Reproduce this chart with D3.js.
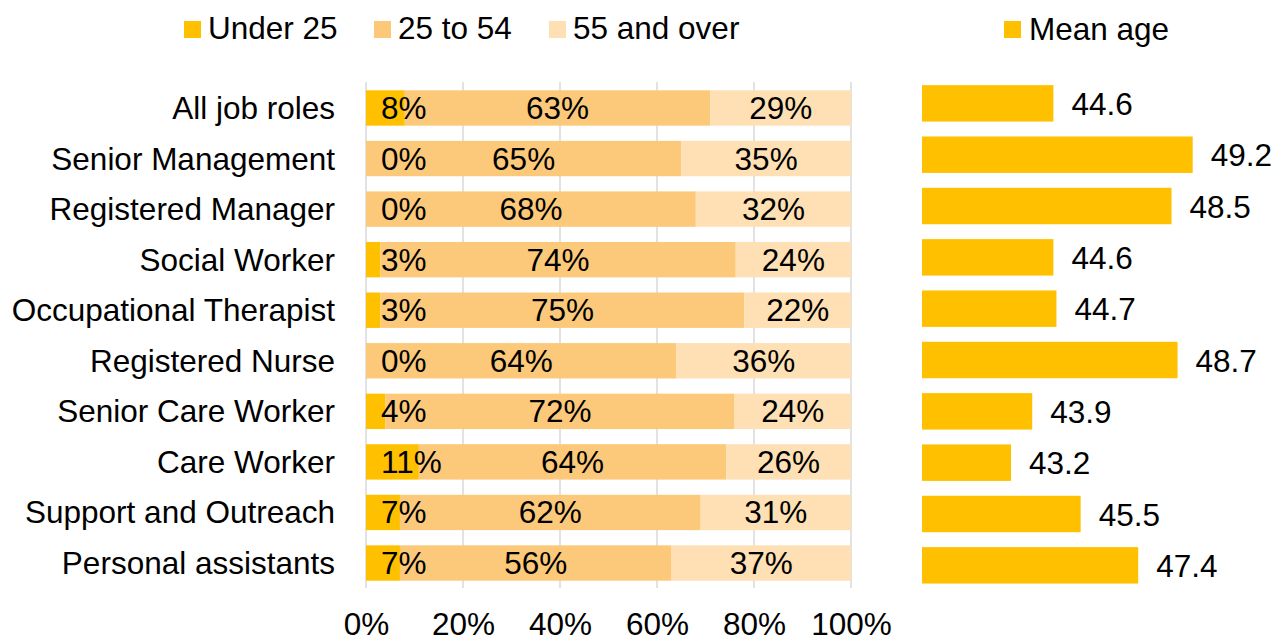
<!DOCTYPE html>
<html>
<head>
<meta charset="utf-8">
<script src="https://cdn.jsdelivr.net/npm/d3@7/dist/d3.min.js"></script>
<style>
  html, body { margin: 0; padding: 0; background: #fff; }
  svg { display: block; font-family: "Liberation Sans", Arial, sans-serif; }
</style>
</head>
<body>
<svg id="chart" width="1274" height="639"></svg>
<script>
// Job roles, top to bottom
const roles = [
  "All job roles", "Senior Management", "Registered Manager", "Social Worker",
  "Occupational Therapist", "Registered Nurse", "Senior Care Worker",
  "Care Worker", "Support and Outreach", "Personal assistants"
];

// Age band shares (%)
const ageBands = ["Under 25", "25 to 54", "55 and over"];
const under25 = [8, 0, 0, 3, 3, 0, 4, 11, 7, 7];
const age25to54 = [63, 65, 68, 74, 75, 64, 72, 64, 62, 56];
const age55plus = [29, 35, 32, 24, 22, 36, 24, 26, 31, 37];

// Mean age by role
const meanAge = [44.6, 49.2, 48.5, 44.6, 44.7, 48.7, 43.9, 43.2, 45.5, 47.4];

// Percentage axis ticks
const pctTicks = [0, 20, 40, 60, 80, 100];

const bandColors = ["#FFC000", "#FCC97A", "#FEE0B4"];
const meanColor = "#FFC000";
const fontSize = 31.5;

const svg = d3.select("#chart");

const rows = roles.map((r, i) => ({
  role: r,
  "Under 25": under25[i],
  "25 to 54": age25to54[i],
  "55 and over": age55plus[i]
}));

// ---- Left panel: stacked age-band shares ----
const x = d3.scaleLinear().domain([0, 1]).range([366, 851]);
const y = d3.scaleBand().domain(roles).range([82.7, 588.3]).paddingInner(0.3).paddingOuter(0.15);

// gridlines
svg.append("g")
  .selectAll("line")
  .data(pctTicks)
  .join("line")
  .attr("x1", d => x(d / 100)).attr("x2", d => x(d / 100))
  .attr("y1", 82).attr("y2", 588)
  .attr("stroke", "#D9D9D9")
  .attr("stroke-width", 1.5);

const stack = d3.stack().keys(ageBands).offset(d3.stackOffsetExpand);
const series = stack(rows);

const layers = svg.append("g")
  .selectAll("g")
  .data(series)
  .join("g")
  .attr("fill", (d, i) => bandColors[i]);

layers.selectAll("rect")
  .data(d => d)
  .join("rect")
  .attr("x", d => x(d[0]))
  .attr("width", d => Math.max(0, x(d[1]) - x(d[0])))
  .attr("y", d => y(d.data.role))
  .attr("height", y.bandwidth());

// segment labels
series.forEach((s, si) => {
  svg.append("g")
    .selectAll("text")
    .data(s)
    .join("text")
    .attr("x", d => si === 0 ? x(0) + 15 : (x(d[0]) + x(d[1])) / 2)
    .attr("y", d => y(d.data.role) + y.bandwidth() / 2)
    .attr("dy", "0.35em")
    .attr("text-anchor", si === 0 ? "start" : "middle")
    .attr("font-size", fontSize)
    .attr("fill", "#000")
    .text(d => d.data[s.key] + "%");
});

// category labels
svg.append("g")
  .selectAll("text")
  .data(roles)
  .join("text")
  .attr("x", 335)
  .attr("y", d => y(d) + y.bandwidth() / 2)
  .attr("dy", "0.35em")
  .attr("text-anchor", "end")
  .attr("font-size", fontSize)
  .attr("fill", "#000")
  .text(d => d);

// percentage axis
const xAxis = d3.axisBottom(x)
  .tickValues(pctTicks.map(d => d / 100))
  .tickFormat(d => Math.round(d * 100) + "%")
  .tickSize(0)
  .tickPadding(0);
const axG = svg.append("g").attr("transform", "translate(0,612)").call(xAxis);
axG.select(".domain").remove();
axG.selectAll("text")
  .attr("font-size", fontSize)
  .attr("font-family", "Liberation Sans, Arial, sans-serif")
  .attr("fill", "#000")
  .attr("dy", "0.72em");

// legend for age bands
const legendItems = [
  { label: ageBands[0], x: 184 },
  { label: ageBands[1], x: 374 },
  { label: ageBands[2], x: 549 }
];
const lg = svg.append("g")
  .selectAll("g")
  .data(legendItems)
  .join("g")
  .attr("transform", d => `translate(${d.x},0)`);
lg.append("rect")
  .attr("x", 0).attr("y", 21)
  .attr("width", 17).attr("height", 17)
  .attr("fill", (d, i) => bandColors[i]);
lg.append("text")
  .attr("x", 24).attr("y", 39)
  .attr("font-size", fontSize)
  .attr("fill", "#000")
  .text(d => d.label);

// ---- Right panel: mean age ----
const xm = d3.scaleLinear().domain([40.26, 50]).range([922, 922 + 9.74 * 30.28]);
const ym = d3.scaleBand().domain(roles).range([77.7, 591]).paddingInner(0.29).paddingOuter(0.145);

svg.append("g")
  .selectAll("rect")
  .data(roles)
  .join("rect")
  .attr("x", xm(40.26))
  .attr("y", d => ym(d))
  .attr("width", (d, i) => xm(meanAge[i]) - xm(40.26))
  .attr("height", ym.bandwidth())
  .attr("fill", meanColor);

svg.append("g")
  .selectAll("text")
  .data(roles)
  .join("text")
  .attr("x", (d, i) => xm(meanAge[i]) + 18)
  .attr("y", d => ym(d) + ym.bandwidth() / 2)
  .attr("dy", "0.37em")
  .attr("font-size", fontSize)
  .attr("fill", "#000")
  .text((d, i) => meanAge[i].toFixed(1));

const mg = svg.append("g").attr("transform", "translate(1004,0)");
mg.append("rect")
  .attr("x", 0).attr("y", 21)
  .attr("width", 17).attr("height", 17)
  .attr("fill", meanColor);
mg.append("text")
  .attr("x", 25).attr("y", 40)
  .attr("font-size", fontSize)
  .attr("fill", "#000")
  .text("Mean age");
</script>
</body>
</html>
